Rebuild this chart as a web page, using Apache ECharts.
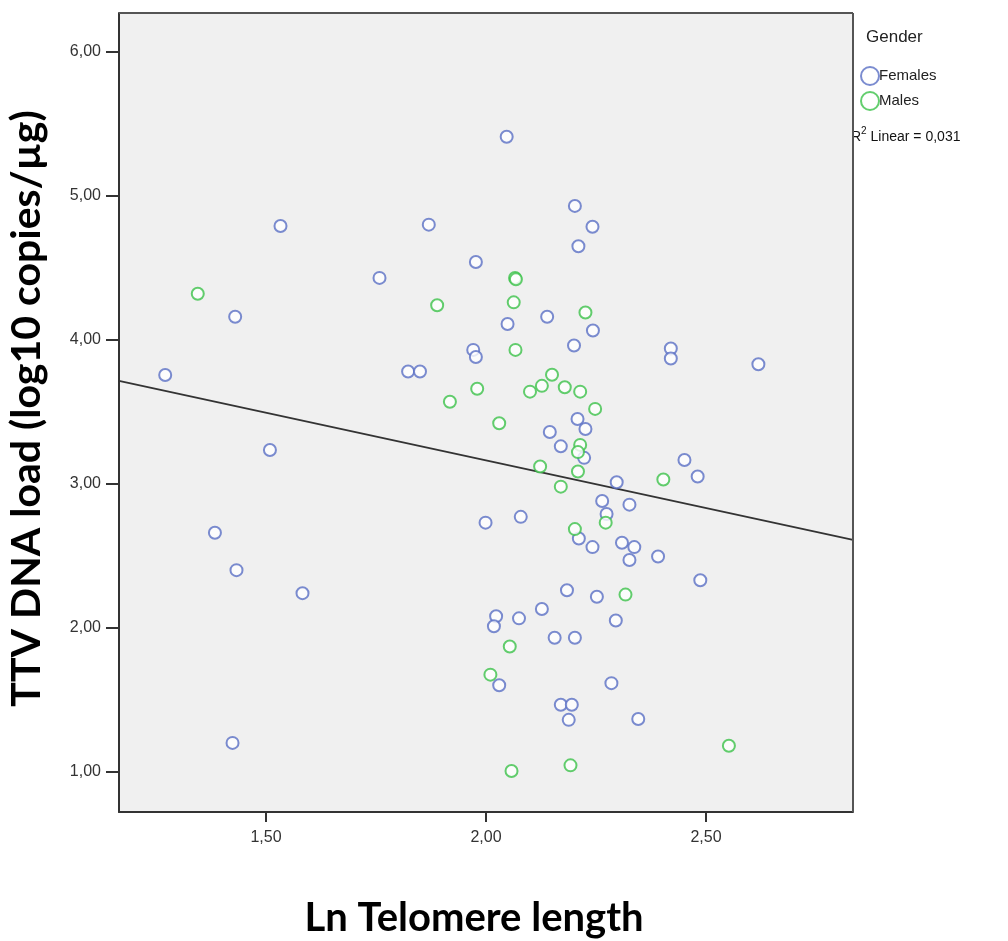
<!DOCTYPE html>
<html>
<head>
<meta charset="utf-8">
<script src="https://cdn.jsdelivr.net/npm/echarts@6/dist/echarts.min.js"></script>
<style>
  html, body { margin: 0; padding: 0; background: #fff; }
  #main { width: 1008px; height: 941px; }
</style>
</head>
<body>
<div id="main"></div>
<script>
// Ln telomere length (x) vs TTV DNA load (y)
const femalesX = [1.533, 1.870, 1.977, 1.758, 1.430, 1.971, 1.977, 1.823, 1.850, 1.271,
  2.047, 2.202, 2.242, 2.210, 2.139, 2.049, 2.243, 2.200, 2.420, 2.420, 2.619,
  2.208, 2.226, 2.145, 2.170, 2.223, 2.297, 2.451, 2.481, 2.264, 2.326, 2.274,
  1.999, 2.079, 2.211, 2.242, 2.309, 2.337, 2.326, 2.391, 2.487, 2.184, 2.252,
  2.127, 2.023, 2.018, 2.075, 2.295, 2.156, 2.202, 2.030, 2.285, 2.170, 2.195,
  2.188, 2.346, 1.509, 1.384, 1.433, 1.583, 1.424];
const femalesY = [4.79, 4.80, 4.54, 4.43, 4.16, 3.93, 3.88, 3.78, 3.78, 3.755,
  5.41, 4.93, 4.785, 4.65, 4.16, 4.11, 4.065, 3.96, 3.94, 3.87, 3.83,
  3.45, 3.38, 3.36, 3.26, 3.18, 3.01, 3.165, 3.05, 2.88, 2.855, 2.79,
  2.73, 2.77, 2.62, 2.56, 2.59, 2.56, 2.47, 2.495, 2.33, 2.26, 2.215,
  2.13, 2.08, 2.01, 2.065, 2.05, 1.93, 1.93, 1.60, 1.615, 1.465, 1.465,
  1.36, 1.366, 3.235, 2.66, 2.40, 2.24, 1.20];

const malesX = [1.345, 1.889, 1.980, 1.918, 2.066, 2.068, 2.063, 2.226, 2.067, 2.150,
  2.127, 2.100, 2.179, 2.214, 2.248, 2.030, 2.214, 2.209, 2.123, 2.209, 2.170,
  2.403, 2.272, 2.202, 2.317, 2.054, 2.010, 2.552, 2.192, 2.058];
const malesY = [4.32, 4.24, 3.66, 3.57, 4.43, 4.42, 4.26, 4.19, 3.93, 3.757,
  3.68, 3.64, 3.67, 3.64, 3.52, 3.42, 3.27, 3.22, 3.12, 3.085, 2.98,
  3.03, 2.73, 2.685, 2.23, 1.87, 1.674, 1.18, 1.044, 1.005];

// fit line ends at the plot edges
const fitX = [1.166, 2.834];
const fitY = [3.715, 2.611];

const yTicks = [1, 2, 3, 4, 5, 6];
const xTicks = [1.5, 2.0, 2.5];

const pairs = (xs, ys) => xs.map((x, i) => [x, ys[i]]);
const fmt = (v) => v.toFixed(2).replace(".", ",");

const chart = echarts.init(document.getElementById("main"));

const option = {
  backgroundColor: "#fff",
  animation: false,
  grid: {
    left: 119, top: 13, right: 155, bottom: 129,
    outerBoundsMode: "none", containLabel: false,
    show: true, backgroundColor: "#f0f0f0", borderWidth: 0,
  },
  legend: {
    orient: "vertical",
    left: 855,
    top: 61,
    itemGap: 5,
    itemWidth: 20,
    itemHeight: 18,
    data: ["Females", "Males"],
    textStyle: { fontFamily: "Liberation Sans", fontSize: 15, color: "#222", padding: [0, 0, 0, -6] },
  },
  xAxis: {
    type: "value",
    min: 1.166,
    max: 2.834,
    splitLine: { show: false },
    axisLine: { show: true, onZero: false, lineStyle: { color: "#333", width: 2 } },
    axisTick: {
      show: true, length: 10, lineStyle: { color: "#333", width: 2 },
      customValues: xTicks,
    },
    axisLabel: {
      customValues: xTicks,
      formatter: fmt,
      fontFamily: "Liberation Sans Narrow, Liberation Sans",
      fontSize: 16, color: "#333", margin: 18,
    },
    name: "Ln Telomere length",
    nameLocation: "middle",
    nameGap: 86,
    nameTextStyle: { fontFamily: "Lato", fontWeight: "bold", fontSize: 40, color: "#000", padding: [0, 24, 0, 0] },
  },
  yAxis: {
    type: "value",
    min: 0.72,
    max: 6.27,
    splitLine: { show: false },
    axisLine: { show: true, onZero: false, lineStyle: { color: "#333", width: 2 } },
    axisTick: {
      show: true, length: 13, lineStyle: { color: "#333", width: 2 },
      customValues: yTicks,
    },
    axisLabel: {
      customValues: yTicks,
      formatter: fmt,
      fontFamily: "Liberation Sans Narrow, Liberation Sans",
      fontSize: 16, color: "#333", margin: 18,
    },
    name: "TTV DNA load (log10 copies/\u00b5g)",
    nameLocation: "middle",
    nameGap: 72,
    nameTextStyle: { fontFamily: "Lato", fontWeight: "bold", fontSize: 41, color: "#000", padding: [0, 0, 0, 8] },
  },
  graphic: [
    {
      type: "line",
      shape: { x1: 853, y1: 13, x2: 853, y2: 812 },
      style: { stroke: "#555", lineWidth: 2 },
      z: 10,
    },
    {
      type: "line",
      shape: { x1: 119, y1: 13, x2: 853, y2: 13 },
      style: { stroke: "#555", lineWidth: 2 },
      z: 10,
    },
    {
      type: "text", left: 866, top: 29,
      style: { text: "Gender", fontFamily: "Liberation Sans", fontSize: 17, fill: "#222" },
    },
    {
      type: "text", left: 851, top: 126,
      style: {
        text: "{a|R}{s|2}{a| Linear = 0,031}",
        rich: {
          a: { fontFamily: "Liberation Sans", fontSize: 14, fill: "#111", verticalAlign: "bottom" },
          s: { fontFamily: "Liberation Sans", fontSize: 10, fill: "#111", verticalAlign: "top", padding: [0, 0, 8, 0] },
        },
      },
    },
  ],
  series: [
    {
      name: "Females",
      type: "scatter",
      data: pairs(femalesX, femalesY),
      symbol: "emptyCircle",
      symbolSize: 12,
      itemStyle: { color: "#5a6fc4", borderColor: "#5a6fc4", borderWidth: 1.8 },
      z: 3,
    },
    {
      name: "Males",
      type: "scatter",
      data: pairs(malesX, malesY),
      symbol: "emptyCircle",
      symbolSize: 12,
      itemStyle: { color: "#3cc24a", borderColor: "#3cc24a", borderWidth: 1.8 },
      z: 3,
    },
    {
      name: "fit",
      type: "line",
      data: pairs(fitX, fitY),
      symbol: "none",
      lineStyle: { color: "#333", width: 1.8 },
      z: 2,
    },
  ],
};

chart.setOption(option);
</script>
</body>
</html>
